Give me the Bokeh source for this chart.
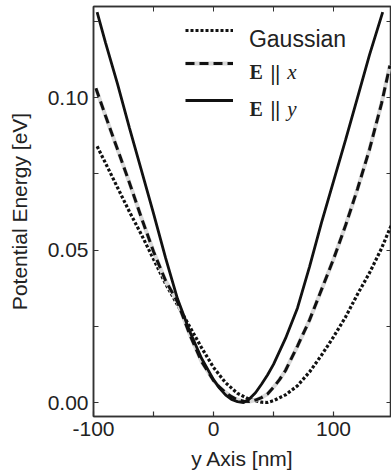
from bokeh.plotting import figure
from bokeh.models import (Range1d, FixedTicker, LinearAxis, Legend, LegendItem,
                          Label, PrintfTickFormatter, CustomJSTickFormatter)
from bokeh.embed import file_html
from bokeh.resources import INLINE

# ---- data ----
x_gauss = [-97, -90, -80, -70, -60, -50, -40, -30, -20, -10, 0, 10, 20, 30, 40, 45,
           50, 60, 70, 80, 90, 100, 110, 120, 130, 140, 148]
e_gauss = [0.084, 0.0785, 0.0705, 0.0625, 0.055, 0.047, 0.039, 0.032, 0.025, 0.018,
           0.0115, 0.0065, 0.003, 0.001, 0.0001, 0.0, 0.0006, 0.0025, 0.0055, 0.010,
           0.0155, 0.0215, 0.028, 0.0355, 0.0425, 0.0505, 0.058]

x_ex = [-98, -90, -80, -70, -60, -50, -40, -30, -20, -10, 0, 5, 10, 15, 20, 25, 30,
        35, 40, 45, 50, 55, 60, 70, 80, 90, 100, 110, 120, 130, 140, 147]
e_ex = [0.103, 0.094, 0.083, 0.072, 0.0605, 0.0495, 0.040, 0.033, 0.0225, 0.0135,
        0.0072, 0.005, 0.0033, 0.0019, 0.0009, 0.0004, 0.0003, 0.0008, 0.0016, 0.0028,
        0.005, 0.0075, 0.0105, 0.0185, 0.027, 0.037, 0.047, 0.058, 0.070, 0.083,
        0.098, 0.1105]

x_ey = [-97, -90, -80, -70, -60, -50, -40, -30, -20, -10, 0, 5, 10, 15, 20, 25, 30,
        35, 40, 45, 50, 60, 70, 80, 90, 100, 110, 120, 130, 141]
e_ey = [0.128, 0.118, 0.1045, 0.090, 0.076, 0.062, 0.0475, 0.034, 0.0235, 0.0145,
        0.0075, 0.0047, 0.0025, 0.001, 0.0003, 0.0, 0.0012, 0.0032, 0.006, 0.009,
        0.0125, 0.021, 0.031, 0.0445, 0.059, 0.0725, 0.086, 0.100, 0.114, 0.128]

x_major = [-100, 0, 100]
x_minor = [-50, 50]
y_major = [0.0, 0.05, 0.10]
y_minor = [0.025, 0.075, 0.125]

AX = "#333333"
TXT = "#222222"
SANS = "Liberation Sans"
SERIF = "Liberation Serif"

p = figure(width=391, height=472, output_backend="svg", toolbar_location=None,
           x_range=Range1d(-100, 148.33), y_range=Range1d(-0.00459, 0.12984),
           min_border_left=93, min_border_right=0, min_border_top=6,
           min_border_bottom=56)
p.xgrid.visible = False
p.ygrid.visible = False
p.outline_line_color = AX
p.outline_line_width = 1.5
p.background_fill_color = "white"

# curves
r_g = p.line(x_gauss, e_gauss, line_color="#111111", line_width=3.2, line_dash="3 2")
r_xg = p.line(x_ex, e_ex, line_color="#d8d8d8", line_width=4)
r_x = p.line(x_ex, e_ex, line_color="#111111", line_width=3, line_dash="9 5")
r_y = p.line(x_ey, e_ey, line_color="#111111", line_width=2.8)

# axes
for ax in p.xaxis:
    ax.ticker = FixedTicker(ticks=x_major, minor_ticks=x_minor)
    ax.formatter = PrintfTickFormatter(format="%d")
for ax in p.yaxis:
    ax.ticker = FixedTicker(ticks=y_major, minor_ticks=y_minor)
    ax.formatter = PrintfTickFormatter(format="%.2f")

for ax in p.xaxis + p.yaxis:
    ax.axis_line_color = AX
    ax.axis_line_width = 1.5
    ax.major_tick_line_color = AX
    ax.minor_tick_line_color = AX
    ax.major_tick_line_width = 1.2
    ax.minor_tick_line_width = 1.2
    ax.major_tick_in = 5
    ax.major_tick_out = 0
    ax.minor_tick_in = 5
    ax.minor_tick_out = 0
    ax.major_label_text_font = SANS
    ax.major_label_text_font_size = "21px"
    ax.major_label_text_color = TXT
    ax.axis_label_text_font = SANS
    ax.axis_label_text_font_size = "21px"
    ax.axis_label_text_font_style = "normal"
    ax.axis_label_text_color = TXT
    ax.major_label_standoff = 5

p.xaxis.axis_label = "y Axis [nm]"
p.yaxis.axis_label = "Potential Energy [eV]"
p.xaxis.axis_label_standoff = 8
p.yaxis.axis_label_standoff = 14

# top and right axes: ticks only
blank = CustomJSTickFormatter(code="return ''")
top = LinearAxis(ticker=FixedTicker(ticks=[-50, 0, 50, 100], minor_ticks=[]),
                 formatter=blank, major_tick_in=5, major_tick_out=0,
                 minor_tick_in=0, minor_tick_out=0, major_label_standoff=0,
                 major_label_text_font_size="0px", axis_line_color=AX,
                 major_tick_line_color=AX, axis_line_width=1.5)
right = LinearAxis(ticker=FixedTicker(ticks=y_major + y_minor, minor_ticks=[]),
                   formatter=blank, major_tick_in=5, major_tick_out=0,
                   minor_tick_in=0, minor_tick_out=0, major_label_standoff=0,
                   major_label_text_font_size="0px", axis_line_color=AX,
                   major_tick_line_color=AX, axis_line_width=1.5)
p.add_layout(top, "above")
p.add_layout(right, "right")

# legend glyph samples (one legend per row)
def row_legend(renderers, y):
    lg = Legend(items=[LegendItem(label=" ", renderers=renderers)],
                location=(92, y), padding=0, spacing=0, margin=0,
                glyph_width=48, glyph_height=10, label_height=10,
                label_width=0, label_standoff=0, label_text_font_size="1px",
                border_line_alpha=0, background_fill_alpha=0)
    p.add_layout(lg, "center")

row_legend([r_g], 381.5)
row_legend([r_xg, r_x], 348.5)
row_legend([r_y], 311)

# legend texts
def lab(x, y, t, font, style, size, color=TXT):
    p.add_layout(Label(x=x, y=y, text=t, text_font=font, text_font_style=style,
                       text_font_size=size, text_color=color,
                       text_baseline="alphabetic", text_align="left"))

lab(29.5, 0.1192, "Gaussian", SANS, "normal", "23px")
lab(30, 0.1083, "E", SERIF, "bold", "20px")
lab(47.5, 0.1083, "||", SERIF, "bold", "22px", "#111111")
lab(61.5, 0.1083, "x", SERIF, "italic", "21px")
lab(30, 0.0963, "E", SERIF, "bold", "20px")
lab(47.5, 0.0963, "||", SERIF, "bold", "22px", "#111111")
lab(61.5, 0.0963, "y", SERIF, "italic", "21px")

open("out.html", "w").write(file_html(p, INLINE))
